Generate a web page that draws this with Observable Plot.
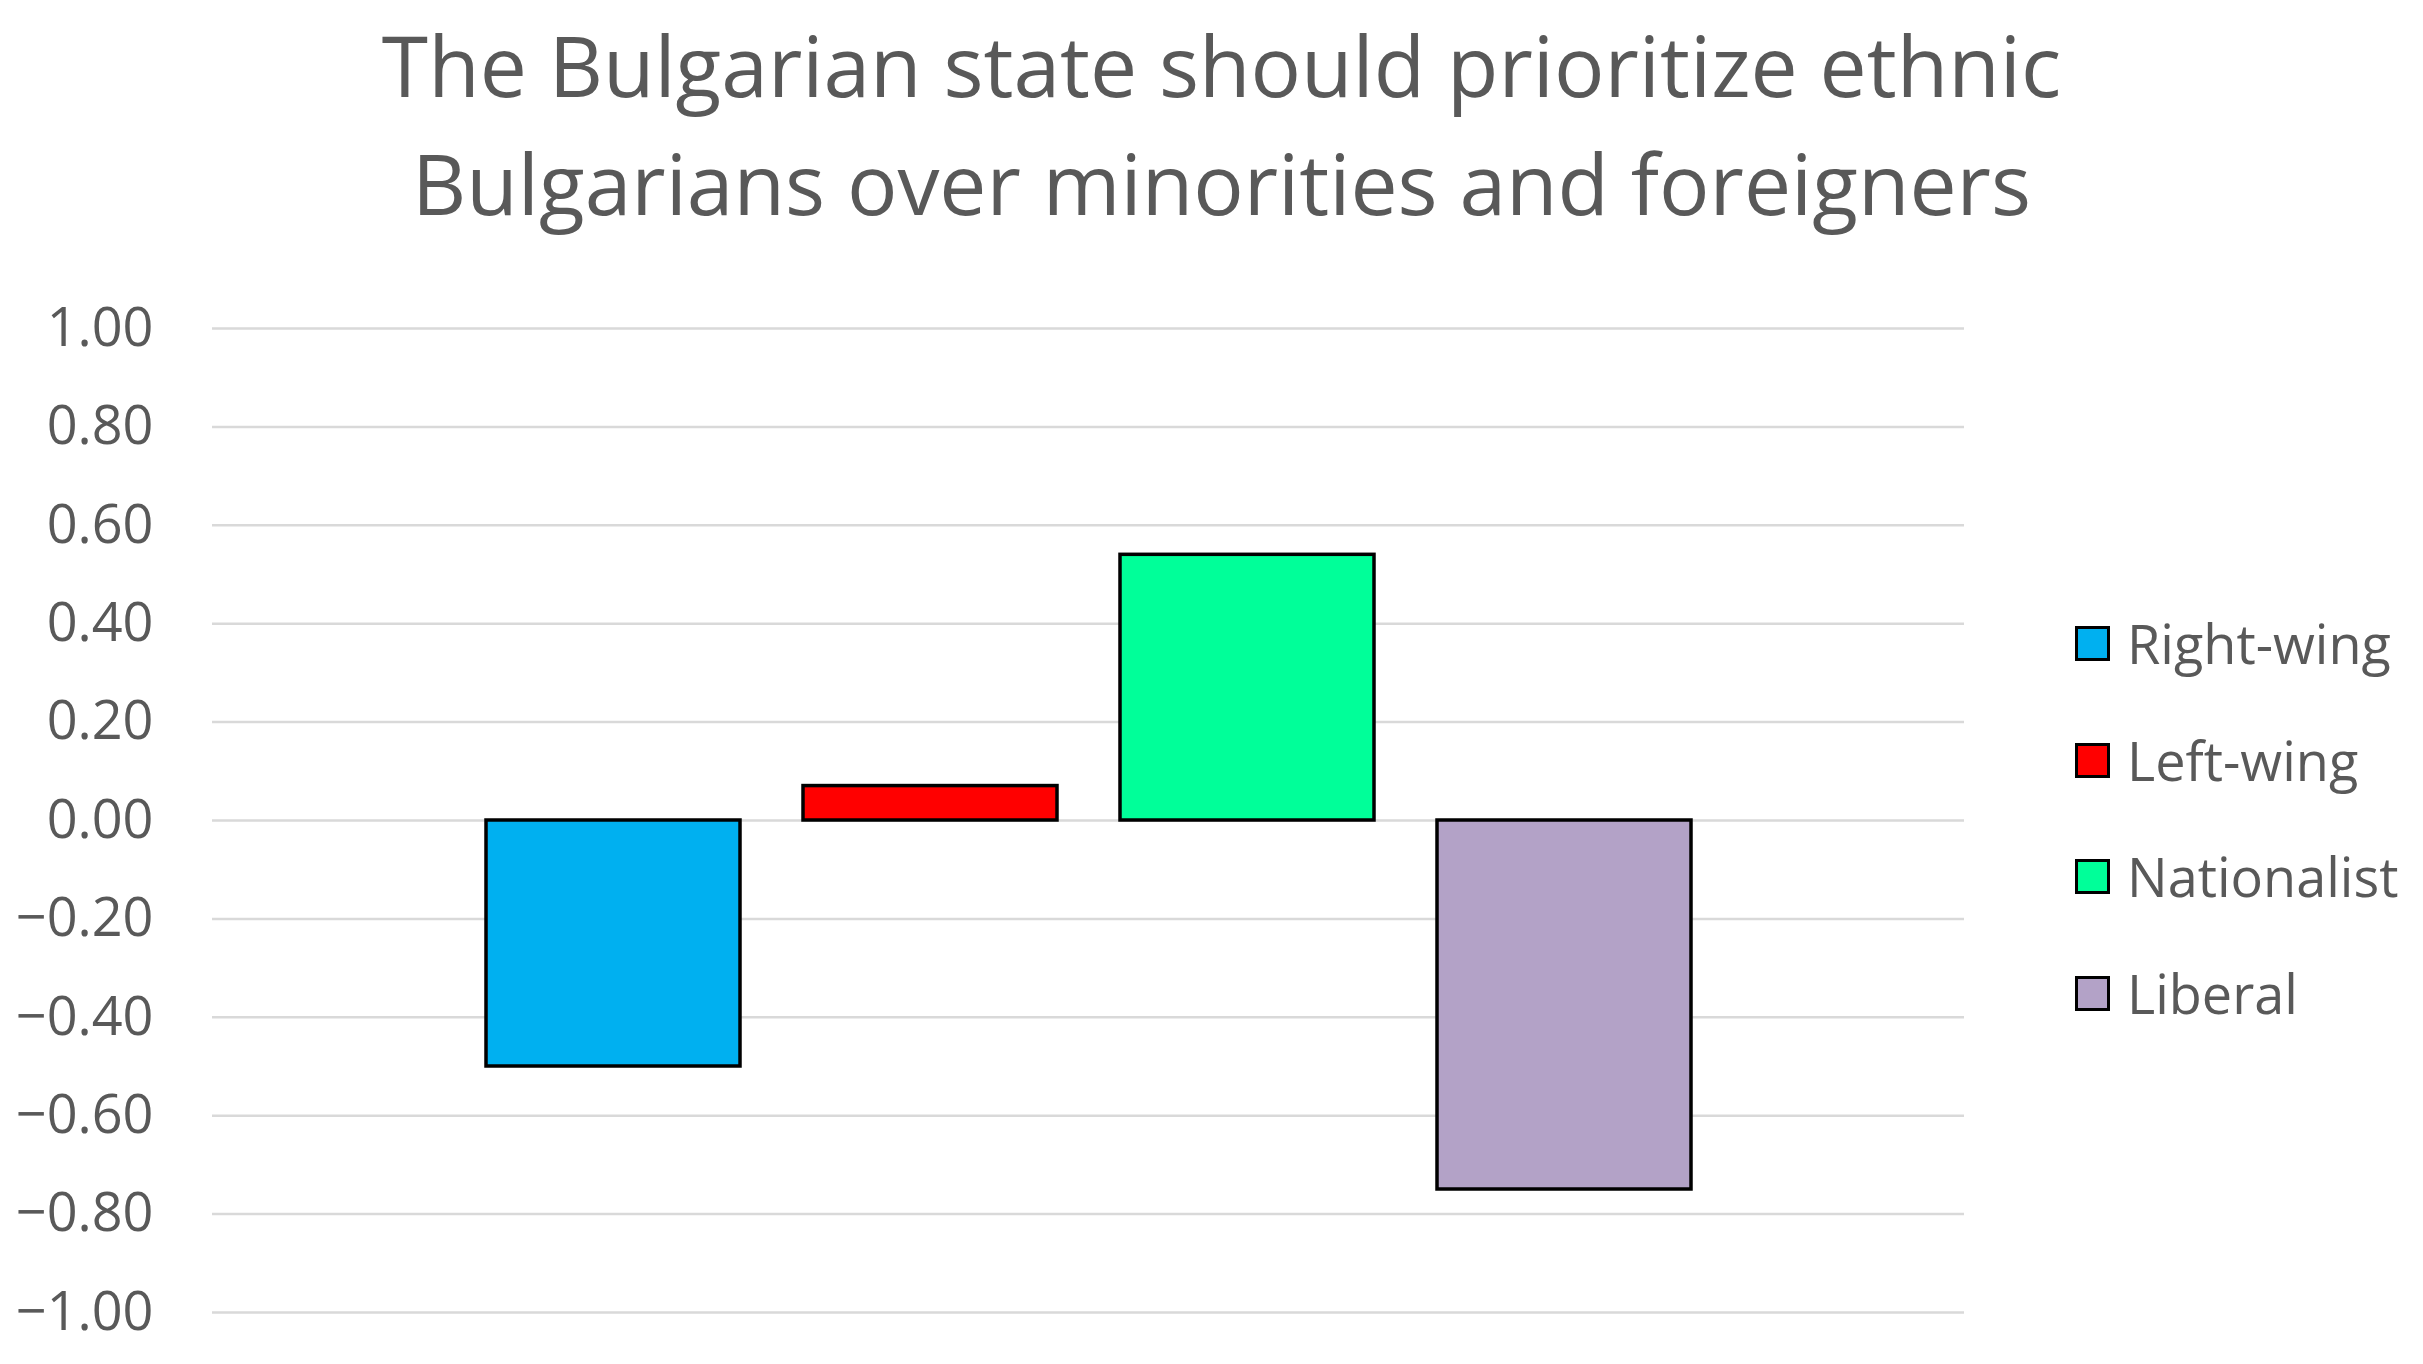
<!DOCTYPE html>
<html>
<head>
<meta charset="utf-8">
<script src="https://cdn.jsdelivr.net/npm/d3@7"></script>
<script src="https://cdn.jsdelivr.net/npm/@observablehq/plot@0.6"></script>
<style>
  html, body { margin: 0; padding: 0; background: #fff; }
  #page { position: relative; width: 2423px; height: 1364px; overflow: hidden; font-family: "Open Sans", sans-serif; color: #595959; }
  #title { position: absolute; left: 0; top: 6px; width: 2443px; text-align: center; font-size: 84px; line-height: 118px; color: #595959; }
  #chart { position: absolute; left: 0; top: 250px; }
  #legend { position: absolute; left: 2075px; top: 0; }
  .item { position: absolute; left: 0; display: flex; align-items: center; white-space: nowrap; font-size: 54px; color: #595959; }
  .sw { width: 29px; height: 29px; border: 3px solid #000; margin-right: 17px; }
</style>
</head>
<body>
<div id="page">
  <div id="title">The Bulgarian state should prioritize ethnic<br>Bulgarians over minorities and foreigners</div>
  <div id="chart"></div>
  <div id="legend"></div>
</div>
<script>
const series = ["Right-wing", "Left-wing", "Nationalist", "Liberal"];
const values = [-0.50, 0.07, 0.54, -0.75];
const colors = ["#00B0F0", "#FF0000", "#00FF99", "#B3A2C7"];
const yTicks = [-1, -0.8, -0.6, -0.4, -0.2, 0, 0.2, 0.4, 0.6, 0.8, 1];

const data = series.map((s, i) => ({series: s, value: values[i]}));

const plot = Plot.plot({
  width: 2000,
  height: 1114,
  marginLeft: 212,
  marginRight: 36,
  marginTop: 78,
  marginBottom: 52,
  style: {fontFamily: "Open Sans, sans-serif", fontSize: "54px", color: "#595959", background: "transparent"},
  x: {domain: series, paddingInner: 0.2, paddingOuter: 0.86, axis: null},
  y: {domain: [-1, 1], ticks: yTicks, tickFormat: d3.format(".2f"), tickSize: 0, tickPadding: 59, label: null},
  color: {domain: series, range: colors},
  marks: [
    Plot.gridY(yTicks, {stroke: "#d9d9d9", strokeOpacity: 1, strokeWidth: 2.5}),
    Plot.barY(data, {x: "series", y: "value", fill: "series", stroke: "#000", strokeWidth: 3.5})
  ]
});
document.getElementById("chart").appendChild(plot);

const legend = document.getElementById("legend");
const rowY = [643, 760, 876, 993];
series.forEach((s, i) => {
  const item = document.createElement("div");
  item.className = "item";
  item.style.top = (rowY[i] - 38) + "px";
  item.style.height = "76px";
  const sw = document.createElement("div");
  sw.className = "sw";
  sw.style.background = colors[i];
  const t = document.createElement("span");
  t.textContent = s;
  item.appendChild(sw);
  item.appendChild(t);
  legend.appendChild(item);
});
</script>
</body>
</html>
